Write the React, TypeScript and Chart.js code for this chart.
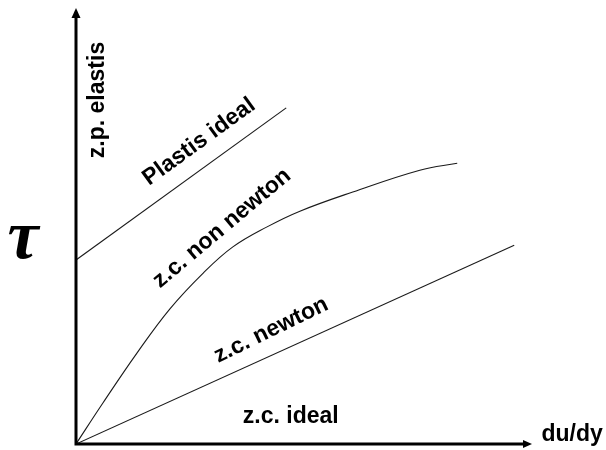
import React, { useEffect, useRef } from "react";
import { Chart, registerables } from "chart.js";

Chart.register(...registerables);

// Series values (x = du/dy, y = tau), in arbitrary units
const plastisX = [0, 4.61];
const plastisY = [4.22, 7.71];

const newtonX = [0, 9.61];
const newtonY = [0, 4.56];

const nonNewtonX = [0, 0.59, 1.34, 2.06, 2.79, 3.44, 4.19, 4.91, 6.07, 7.54, 8.36];
const nonNewtonY = [0, 0.94, 2.09, 3.1, 3.92, 4.52, 4.98, 5.34, 5.78, 6.28, 6.44];

// Text labels
const labelTexts = ["z.p. elastis", "Plastis ideal", "z.c. non newton", "z.c. newton", "z.c. ideal"];
const xAxisTitle = "du/dy";
const yAxisTitle = "τ";

// Placement of the labels (data units) and their rotation (degrees)
const labelX = [0.48, 2.7, 3.2, 4.28, 4.71];
const labelY = [7.89, 6.93, 4.95, 2.61, 0.62];
const labelAngle = [-90, -36, -40, -26, 0];

const toPts = (xs: number[], ys: number[]) => xs.map((x, i) => ({ x, y: ys[i] }));

const overlayPlugin = {
  id: "overlay",
  afterDatasetsDraw(chart: any) {
    const ctx = chart.ctx as CanvasRenderingContext2D;
    const xs = chart.scales.x;
    const ys = chart.scales.y;
    const x0 = xs.getPixelForValue(0);
    const y0 = ys.getPixelForValue(0);
    const xEnd = xs.getPixelForValue(xs.max);
    const yEnd = ys.getPixelForValue(ys.max);
    ctx.save();
    // axes
    ctx.strokeStyle = "#000";
    ctx.fillStyle = "#000";
    ctx.lineWidth = 3;
    ctx.beginPath();
    ctx.moveTo(x0, y0 + 1.5);
    ctx.lineTo(x0, yEnd + 8);
    ctx.moveTo(x0 - 1.5, y0);
    ctx.lineTo(xEnd - 7, y0);
    ctx.stroke();
    // arrow heads
    ctx.beginPath();
    ctx.moveTo(x0, yEnd);
    ctx.lineTo(x0 - 4.5, yEnd + 10);
    ctx.lineTo(x0 + 4.5, yEnd + 10);
    ctx.closePath();
    ctx.fill();
    ctx.beginPath();
    ctx.moveTo(xEnd, y0);
    ctx.lineTo(xEnd - 9, y0 - 4);
    ctx.lineTo(xEnd - 9, y0 + 4);
    ctx.closePath();
    ctx.fill();

    // labels
    ctx.textAlign = "center";
    ctx.textBaseline = "middle";
    ctx.font = "bold 23px 'Liberation Sans', Arial, sans-serif";
    labelTexts.forEach((t, i) => {
      const px = xs.getPixelForValue(labelX[i]);
      const py = ys.getPixelForValue(labelY[i]);
      ctx.save();
      ctx.translate(px, py);
      ctx.rotate((labelAngle[i] * Math.PI) / 180);
      ctx.fillText(t, 0, 0);
      ctx.restore();
    });
    // x axis title
    ctx.fillText(xAxisTitle, xs.getPixelForValue(10.88), ys.getPixelForValue(0.21));
    // y axis title
    ctx.textBaseline = "alphabetic";
    ctx.font = "italic bold 70px 'Liberation Serif', 'Times New Roman', serif";
    ctx.fillText(yAxisTitle, xs.getPixelForValue(-1.16), ys.getPixelForValue(4.27));
    ctx.restore();
  },
};

export default function App() {
  const ref = useRef<HTMLCanvasElement | null>(null);
  useEffect(() => {
    if (!ref.current) return;
    const lineStyle = {
      showLine: true,
      pointRadius: 0,
      borderColor: "#1a1a1a",
      borderWidth: 1.1,
      fill: false,
    };
    const chart = new Chart(ref.current, {
      type: "scatter",
      data: {
        datasets: [
          { label: "Plastis ideal", data: toPts(plastisX, plastisY), ...lineStyle },
          { label: "z.c. newton", data: toPts(newtonX, newtonY), ...lineStyle },
          {
            label: "z.c. non newton",
            data: toPts(nonNewtonX, nonNewtonY),
            ...lineStyle,
            tension: 0.4,
          },
        ],
      },
      options: {
        responsive: false,
        animation: false,
        layout: { padding: { left: 76, right: 74, top: 8, bottom: 6 } },
        plugins: { legend: { display: false }, tooltip: { enabled: false } },
        scales: {
          x: { type: "linear", min: 0, max: 10, display: false },
          y: { type: "linear", min: 0, max: 10, display: false },
        },
      },
      plugins: [overlayPlugin],
    } as any);
    return () => chart.destroy();
  }, []);
  return (
    <div style={{ position: "fixed", left: 0, top: 0, width: 606, height: 450, background: "#fff" }}>
      <canvas ref={ref} width={606} height={450} />
    </div>
  );
}
